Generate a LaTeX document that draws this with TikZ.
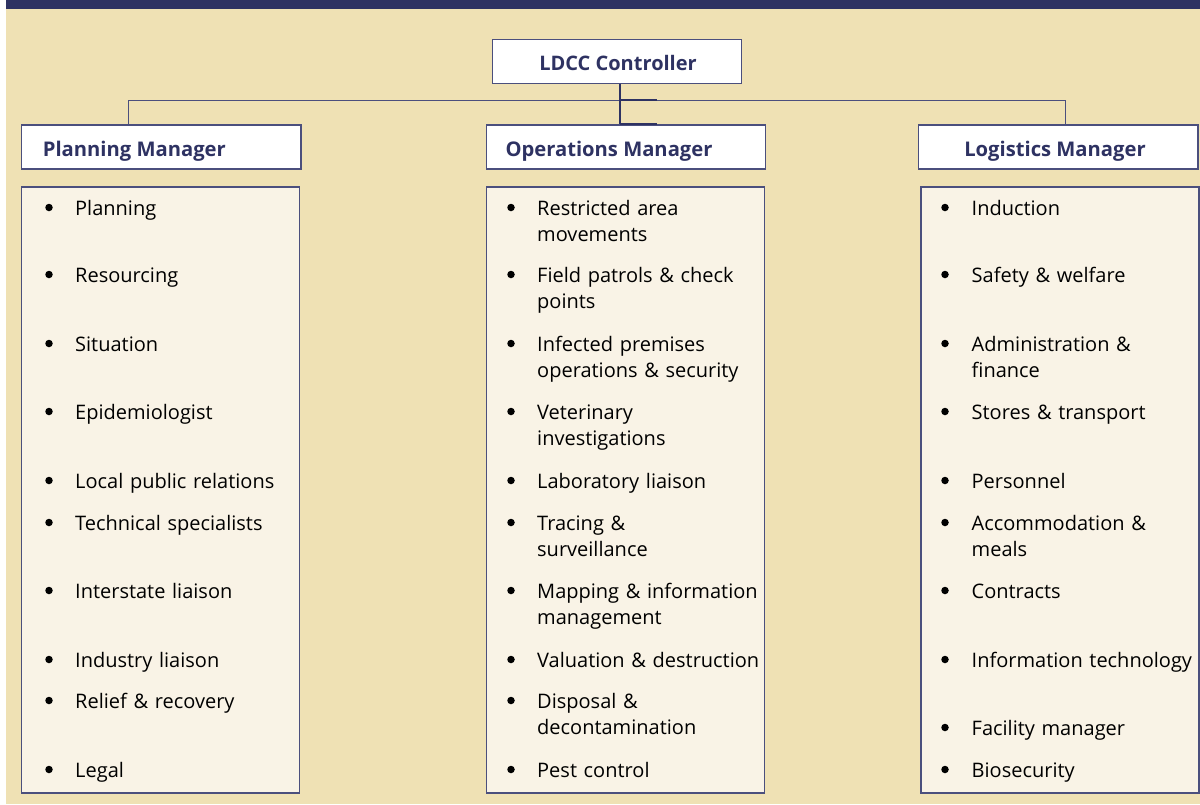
\documentclass[tikz,border=0pt]{standalone}
\usepackage{fontspec}
\setmainfont{Open Sans}
\definecolor{navy}{HTML}{2E3262}
\definecolor{bgc}{HTML}{EFE1B4}
\definecolor{listc}{HTML}{F9F3E6}
\definecolor{edgec}{HTML}{4B4F7D}
\begin{document}
\begin{tikzpicture}[x=1pt,y=-1pt,
  box/.style={draw=edgec,line width=1.3pt,inner sep=0pt,minimum width=#1},
  hdr/.style={box=#1,fill=white,minimum height=44pt},
  lst/.style={box=#1,fill=listc,minimum height=606pt},
  hdrtxt/.style={font=\fontsize{20.2}{24}\selectfont\bfseries,text=navy,inner sep=0pt,anchor=base west},
  itm/.style={font=\fontsize{20}{26.5}\selectfont,text=black,inner sep=0pt,anchor=base west,text width=240pt,align=left},
  bul/.style={circle,fill=black,inner sep=0pt,minimum size=7.5pt},
  conn/.style={draw=edgec,line width=1pt},
  trunk/.style={draw=navy,line width=2.5pt}]
\useasboundingbox (0,0) rectangle (1200,804);
\fill[white] (0,0) rectangle (1200,804);
\fill[bgc] (6,9) rectangle (1200,804);
\fill[navy] (6,0) rectangle (1200,9);

% controller
\node[hdr=248.6pt] (ctrl) at (617,61.3) {};
\node[hdrtxt,font=\fontsize{20}{24}\selectfont\bfseries,anchor=base] (ctrlt) at (618,70) {LDCC Controller};

% headers
\node[hdr=279.7pt] (hp) at (161.2,147) {};
\node[hdrtxt] (hpt) at (42.7,156.7) {Planning Manager};
\node[hdr=278.6pt] (ho) at (626,147) {};
\node[hdrtxt] (hot) at (505.3,156.7) {Operations Manager};
\node[hdr=279.7pt] (hl) at (1058.2,147) {};
\node[hdrtxt,anchor=base] (hlt) at (1055,156.7) {Logistics Manager};

% list boxes
\node[lst=278.4pt] (lp) at (160.5,490) {};
\node[lst=278pt] (lo) at (625.7,490) {};
\node[lst=278pt] (ll) at (1060,490) {};

% connectors
\coordinate (jl) at (128,100);
\coordinate (jr) at (1065,100);
\coordinate (jc) at (620,100);
\draw[conn] (hp.north -| jl) -- (jl) -- (jr) -- (hl.north -| jr);
\draw[trunk] (ctrl.south -| jc) -- (ho.north -| jc);
\draw[trunk] (jc) -- ++(37,0);
\draw[trunk,line width=2pt] (ho.north -| jc) -- ++(37,0);

% Planning items
\foreach \t/\y [count=\i] in {Planning/215, Resourcing/282, Situation/351, Epidemiologist/419, Local public relations/488, Technical specialists/530, Interstate liaison/598, Industry liaison/667, Relief \& recovery/708, Legal/777}{
  \node[bul] (pb\i) at (49,\y-7.5) {};
  \node[itm] (pi\i) at (75,\y) {\t};
}
% Operations items
\foreach \t/\y [count=\i] in {Restricted area\\movements/215, Field patrols \& check\\points/282, Infected premises\\operations \& security/351, Veterinary\\investigations/419, Laboratory liaison/488, Tracing \&\\surveillance/530, Mapping \& information\\management/598, Valuation \& destruction/667, Disposal \&\\decontamination/708, Pest control/777}{
  \node[bul] (ob\i) at (511,\y-7.5) {};
  \node[itm] (oi\i) at (537,\y) {\t};
}
% Logistics items
\foreach \t/\y [count=\i] in {Induction/215, Safety \& welfare/282, Administration \&\\finance/351, Stores \& transport/419, Personnel/488, Accommodation \&\\meals/530, Contracts/598, Information technology/667, Facility manager/735, Biosecurity/777}{
  \node[bul] (lb\i) at (945,\y-7.5) {};
  \node[itm] (li\i) at (971.5,\y) {\t};
}
\end{tikzpicture}
\end{document}
